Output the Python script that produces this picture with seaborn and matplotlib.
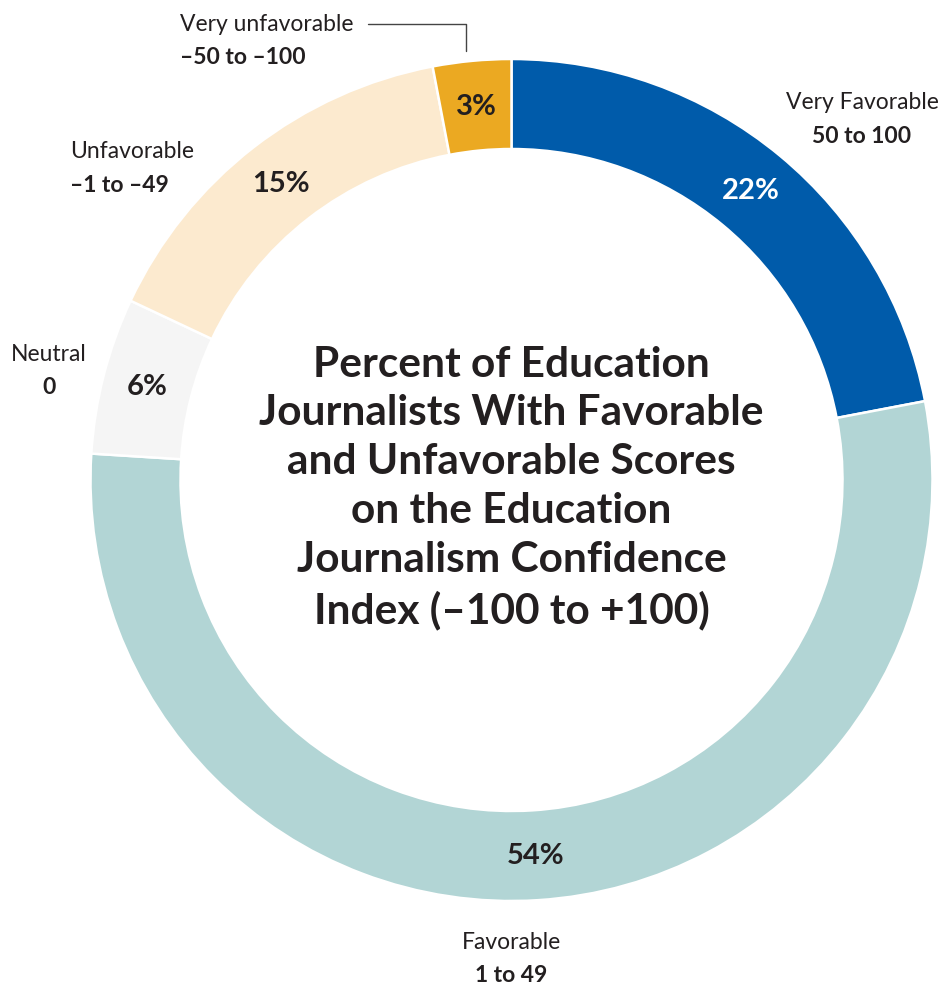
import matplotlib
matplotlib.use("Agg")
import matplotlib.pyplot as plt
import seaborn as sns

# ---- data ----
categories = ["Very Favorable", "Favorable", "Neutral", "Unfavorable", "Very unfavorable"]
ranges = ["50 to 100", "1 to 49", "0", "\u20131 to \u201349", "\u201350 to \u2013100"]
percents = [22, 54, 6, 15, 3]
colors = ["#005BAA", "#B2D5D5", "#F5F5F5", "#FCEACF", "#EBA922"]
pct_text_colors = ["white", "#231F20", "#231F20", "#231F20", "#231F20"]
title = ("Percent of Education\nJournalists With Favorable\nand Unfavorable Scores\n"
         "on the Education\nJournalism Confidence\nIndex (\u2013100 to +100)")

sns.set_theme(style="white")
plt.rcParams["font.family"] = ["Lato", "DejaVu Sans"]

W, H = 943, 987
fig = plt.figure(figsize=(W / 100, H / 100), dpi=100)
ax = fig.add_axes([0, 0, 1, 1])

cx, cy, R, ring = 511.5, H - 481, 421, 90
dark = "#231F20"

wedges, _, autotexts = ax.pie(
    percents, colors=colors, startangle=90, counterclock=False,
    radius=R, center=(cx, cy), autopct="%1.0f%%", pctdistance=(R - ring / 2) / R,
    wedgeprops=dict(width=ring, edgecolor="white", linewidth=1.8),
    textprops=dict(fontsize=21, fontweight="bold"),
)
for t, c in zip(autotexts, pct_text_colors):
    t.set_color(c)

ax.set_xlim(0, W)
ax.set_ylim(0, H)
ax.set_aspect("equal")
ax.axis("off")

# centre title
ax.text(cx, H - 488, title, ha="center", va="center", fontsize=30.5, fontweight="bold",
        color=dark, linespacing=1.35)

# category labels (name, range)
label_pos = {
    "Very Favorable": (862, 103, 137, "center"),
    "Favorable": (511, 943, 976, "center"),
    "Neutral": (49, 355, 388, "center"),
    "Unfavorable": (70, 152, 186, "left"),
    "Very unfavorable": (180, 25, 58, "left"),
}
for name, rng in zip(categories, ranges):
    x, y1, y2, ha = label_pos[name]
    ax.text(x, H - y1, name, ha=ha, va="center", fontsize=16.5, color=dark)
    ax.text(x, H - y2, rng, ha=ha, va="center", fontsize=16.5, fontweight="bold", color=dark)

# leader line for Very unfavorable
ax.plot([368, 466, 466], [H - 25, H - 25, H - 52], color="#444444", lw=1)

fig.savefig("out.png", dpi=100, facecolor="white")
